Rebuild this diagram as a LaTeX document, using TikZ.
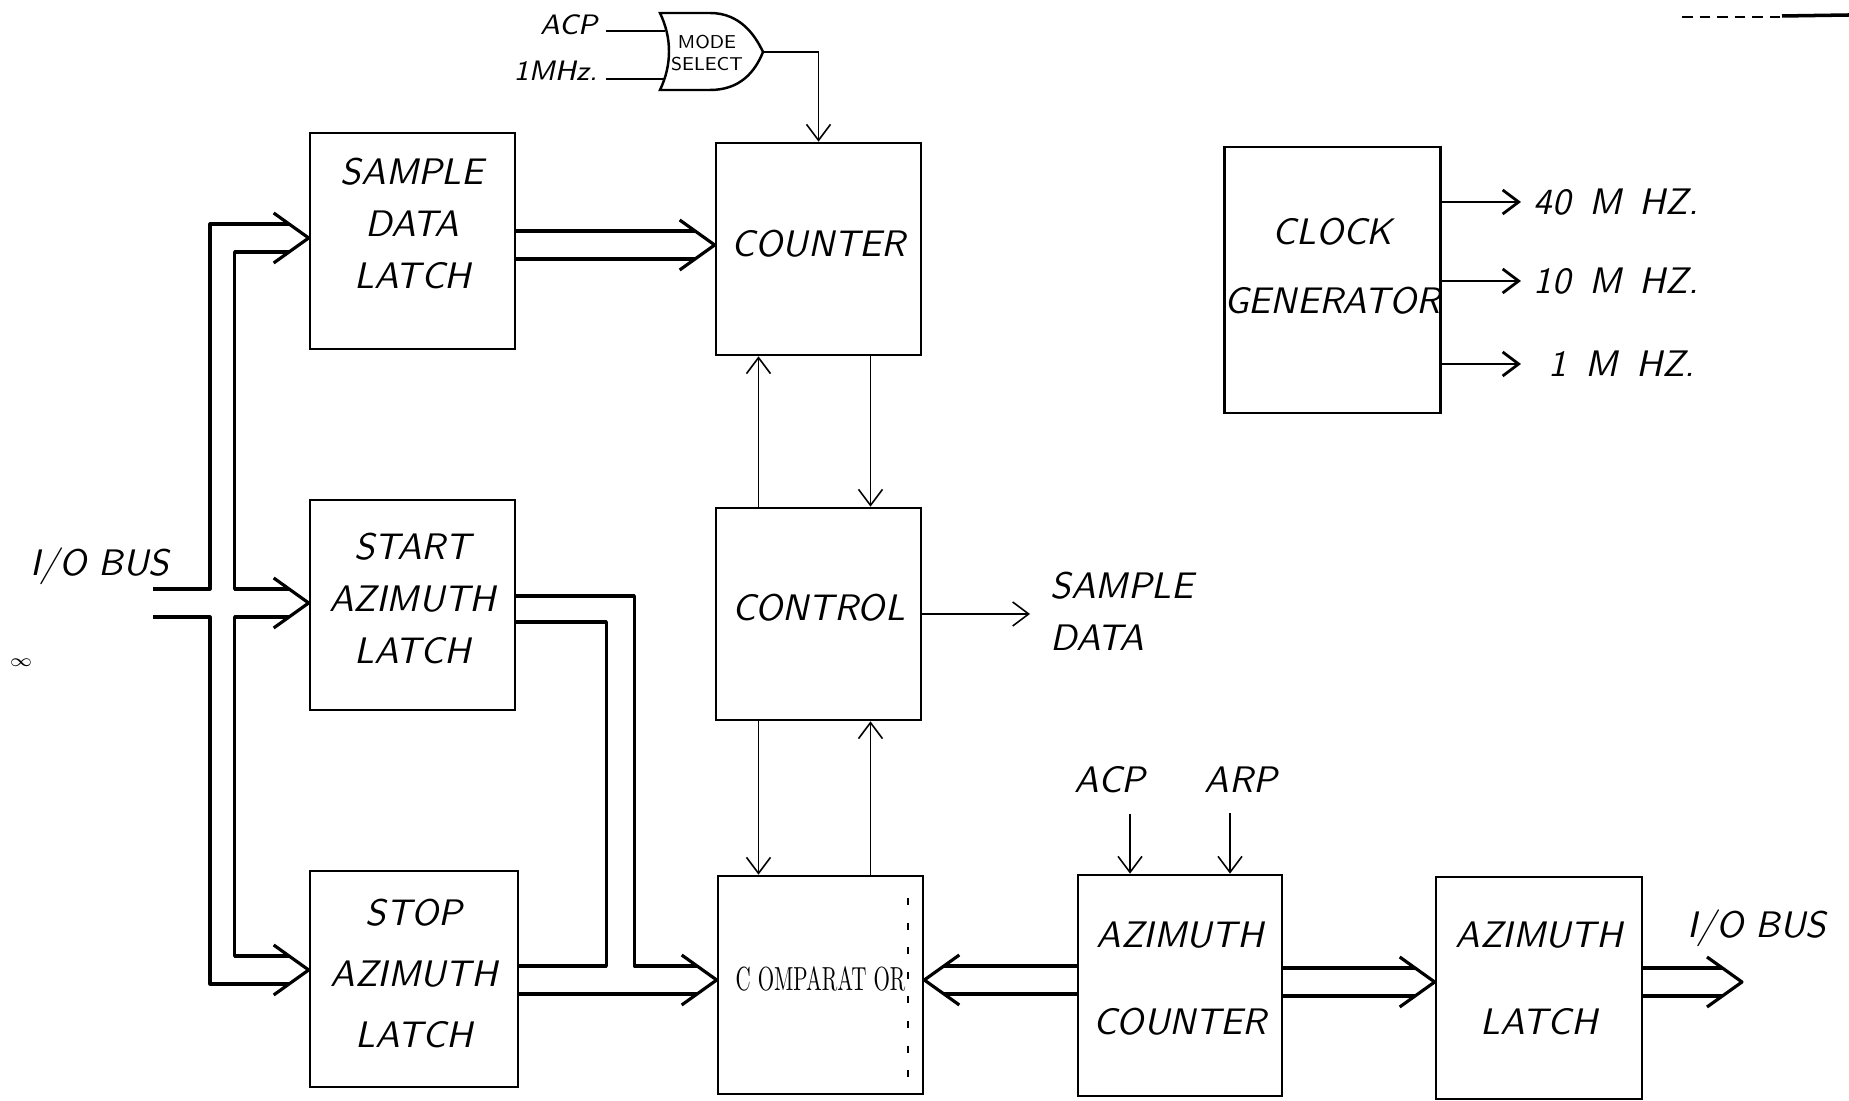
\documentclass[tikz,border=0pt]{standalone}
\usetikzlibrary{arrows.meta}
\newcommand{\handfont}{\fontsize{10.5}{14.8}\selectfont\sffamily\slshape}
\newcommand{\smallhand}{\fontsize{8}{10}\selectfont\sffamily\slshape}
\newcommand{\lift}[1]{\\[#1]\mbox{}}
\tikzset{
	blk/.style={draw, line width=0.75pt, minimum width=2.05cm, minimum height=2.12cm, inner sep=0pt, align=center, font=\handfont},
	lbl/.style={font=\handfont, inner sep=0.8mm},
	bus/.style={line width=0.9pt, line join=round},
	sig/.style={->, line width=0.45pt},
	ck/.style={->, line width=0.8pt},
}
\begin{document}
\begin{tikzpicture}[>={Straight Barb[length=1.6mm,width=2.4mm]}]
	\useasboundingbox (0,0) rectangle (18.49,-11.01);
	% blocks
	\node[blk, minimum height=2.16cm] (SDL) at (4.125,-2.41) {SAMPLE\\DATA\\LATCH\lift{-4.6pt}};
	\node[blk, minimum height=2.10cm] (SAL) at (4.125,-6.05) {START\\AZIMUTH\\LATCH\lift{-10.8pt}};
	\node[blk, minimum width=2.08cm, minimum height=2.16cm] (SPL) at (4.14,-9.79) {STOP\\[2.5pt]AZIMUTH\\[2.5pt]LATCH\lift{-11.4pt}};
	\node[blk] (CNT) at (8.185,-2.49) {COUNTER\lift{-11.4pt}};
	\node[blk] (CTL) at (8.185,-6.14) {CONTROL\lift{-10.8pt}};
	\node[blk, minimum height=2.18cm] (CMP) at (8.205,-9.85) {\scalebox{0.63}[1]{\fontsize{9.5}{11}\selectfont\rmfamily\upshape C OMPARAT OR}\lift{-11.4pt}};
	\node[blk, minimum width=2.04cm, minimum height=2.21cm] (AZC) at (11.80,-9.855) {AZIMUTH\\[10pt]COUNTER\lift{-10.8pt}};
	\node[blk, minimum width=2.06cm, minimum height=2.22cm] (AZL) at (15.39,-9.88) {AZIMUTH\\[10pt]LATCH\lift{-9.4pt}};
	\node[blk, minimum width=2.07cm, minimum height=2.66cm] (CLK) at (13.325,-2.80) {CLOCK\\[5pt]GENERATOR\lift{-6.8pt}};
	% mode select gate
	\draw[line width=0.7pt] (6.60,-0.13) -- (7.10,-0.13) .. controls (7.40,-0.13) and (7.55,-0.35) .. (7.63,-0.52)
		.. controls (7.55,-0.72) and (7.40,-0.90) .. (7.10,-0.90) -- (6.60,-0.90)
		.. controls (6.72,-0.65) and (6.72,-0.38) .. cycle;
	\node[font=\fontsize{5.3}{6.5}\selectfont\sffamily, align=center, inner sep=0pt] (MS) at (7.07,-0.53) {MODE\\SELECT};
	\coordinate (MSa) at (6.65,-0.31);
	\coordinate (MSb) at (6.65,-0.79);
	\coordinate (MSo) at (7.63,-0.52);
	\node[lbl, font=\smallhand, anchor=east] (ACP1) at (6.06,-0.25) {ACP};
	\node[lbl, font=\smallhand, anchor=east] (MHZ) at (6.06,-0.71) {1MHz.};
	\draw[line width=0.6pt] (ACP1.east |- MSa) -- (MSa);
	\draw[line width=0.6pt] (MHZ.east |- MSb) -- (MSb);
	\draw[sig] (MSo) -| (CNT.north);
	% counter, control, comparator
	\draw[sig] ([xshift=-6mm]CTL.north) -- ([xshift=-6mm]CNT.south);
	\draw[sig] ([xshift=5.2mm]CNT.south) -- ([xshift=5.2mm]CTL.north);
	\draw[sig] ([xshift=-6mm]CTL.south) -- ([xshift=-6mm]CTL.south |- CMP.north);
	\draw[sig] ([xshift=5.2mm]CTL.south |- CMP.north) -- ([xshift=5.2mm]CTL.south);
	\node[lbl, anchor=west, align=left, inner sep=2mm] (SD) at (10.30,-6.11) {SAMPLE\\DATA};
	\draw[sig] (CTL.east) -- (CTL.east -| SD.west);
	% clock outputs
	\node[lbl, anchor=west, inner sep=1.2mm] (F40) at (15.21,-2.02) {40 \,M \,HZ.};
	\node[lbl, anchor=west, inner sep=1.2mm] (F10) at (15.21,-2.81) {10 \,M \,HZ.};
	\node[lbl, anchor=west, inner sep=1.2mm] (F1) at (15.21,-3.64) {\hspace{1.5mm}1 \,M \,HZ.};
	\draw[ck] (F40.west -| CLK.east) -- (F40.west);
	\draw[ck] (F10.west -| CLK.east) -- (F10.west);
	\draw[ck] (F1.west -| CLK.east) -- (F1.west);
	% azimuth counter inputs
	\node[lbl] (ACP2) at (11.10,-7.80) {ACP};
	\node[lbl] (ARP) at (12.41,-7.80) {ARP};
	\draw[sig] ([xshift=2mm,yshift=-1.2mm]ACP2.south) -- ([xshift=2mm]ACP2.south |- AZC.north);
	\draw[sig] ([xshift=-1.1mm,yshift=-1.2mm]ARP.south) -- ([xshift=-1.1mm]ARP.south |- AZC.north);
	% bus tips
	\coordinate (tSDL) at ([yshift=0.3mm]SDL.west);
	\coordinate (tSAL) at ([yshift=0.2mm]SAL.west);
	\coordinate (tSPL) at ([yshift=0.9mm]SPL.west);
	\coordinate (tCNT) at ([yshift=0.4mm]CNT.west);
	\coordinate (oSAL) at ([yshift=-0.4mm]SAL.east);
	\coordinate (tCMP) at ([yshift=0.5mm]CMP.west);
	\coordinate (tCMPe) at ([yshift=0.5mm]CMP.east);
	\coordinate (tAZL) at ([yshift=0.6mm]AZL.west);
	\coordinate (IOin) at (1.53,-6.03);
	\coordinate (IOout) at (17.42,-9.82);
	% I/O bus in
	\node[lbl] (IOL) at (1.00,-5.66) {I/O BUS};
	\draw[bus] ([yshift=1.4mm]IOin) -- ++(0.57,0) |- ([xshift=-2mm,yshift=1.4mm]tSDL);
	\draw[bus] ([yshift=-1.4mm]IOin) -- ++(0.57,0) |- ([xshift=-2mm,yshift=-1.4mm]tSPL);
	\draw[bus] ([xshift=-2mm,yshift=-1.4mm]tSDL) -- ++(-0.54,0) |- ([xshift=-2mm,yshift=1.4mm]tSAL);
	\draw[bus] ([xshift=-2mm,yshift=-1.4mm]tSAL) -- ++(-0.54,0) |- ([xshift=-2mm,yshift=1.4mm]tSPL);
	\draw[bus] ([shift={(-3.5mm,2.5mm)}]tSDL) -- (tSDL) -- ([shift={(-3.5mm,-2.5mm)}]tSDL);
	\draw[bus] ([shift={(-3.5mm,2.5mm)}]tSAL) -- (tSAL) -- ([shift={(-3.5mm,-2.5mm)}]tSAL);
	\draw[bus] ([shift={(-3.5mm,2.5mm)}]tSPL) -- (tSPL) -- ([shift={(-3.5mm,-2.5mm)}]tSPL);
	% sample data latch to counter
	\draw[bus] ([yshift=1.4mm]tCNT -| SDL.east) -- ([xshift=-2mm,yshift=1.4mm]tCNT);
	\draw[bus] ([yshift=-1.4mm]tCNT -| SDL.east) -- ([xshift=-2mm,yshift=-1.4mm]tCNT);
	\draw[bus] ([shift={(-3.5mm,2.5mm)}]tCNT) -- (tCNT) -- ([shift={(-3.5mm,-2.5mm)}]tCNT);
	% start and stop latches to comparator
	\draw[bus] ([yshift=1.3mm]oSAL) -- ++(1.18,0) |- ([xshift=-2mm,yshift=1.4mm]tCMP);
	\draw[bus] ([yshift=-1.3mm]oSAL) -- ++(0.90,0) |- ([yshift=1.4mm]tCMP -| SPL.east);
	\draw[bus] ([yshift=-1.4mm]tCMP -| SPL.east) -- ([xshift=-2mm,yshift=-1.4mm]tCMP);
	\draw[bus] ([shift={(-3.5mm,2.5mm)}]tCMP) -- (tCMP) -- ([shift={(-3.5mm,-2.5mm)}]tCMP);
	% azimuth counter to comparator
	\draw[bus] ([yshift=1.4mm]tCMPe -| AZC.west) -- ([xshift=2mm,yshift=1.4mm]tCMPe);
	\draw[bus] ([yshift=-1.4mm]tCMPe -| AZC.west) -- ([xshift=2mm,yshift=-1.4mm]tCMPe);
	\draw[bus] ([shift={(3.5mm,2.5mm)}]tCMPe) -- (tCMPe) -- ([shift={(3.5mm,-2.5mm)}]tCMPe);
	% azimuth counter to azimuth latch
	\draw[bus] ([yshift=1.4mm]tAZL -| AZC.east) -- ([xshift=-2mm,yshift=1.4mm]tAZL);
	\draw[bus] ([yshift=-1.4mm]tAZL -| AZC.east) -- ([xshift=-2mm,yshift=-1.4mm]tAZL);
	\draw[bus] ([shift={(-3.5mm,2.5mm)}]tAZL) -- (tAZL) -- ([shift={(-3.5mm,-2.5mm)}]tAZL);
	% I/O bus out
	\node[lbl] (IOR) at (17.57,-9.28) {I/O BUS};
	\draw[bus] ([yshift=1.4mm]IOout -| AZL.east) -- ([xshift=-2mm,yshift=1.4mm]IOout);
	\draw[bus] ([yshift=-1.4mm]IOout -| AZL.east) -- ([xshift=-2mm,yshift=-1.4mm]IOout);
	\draw[bus] ([shift={(-3.5mm,2.5mm)}]IOout) -- (IOout) -- ([shift={(-3.5mm,-2.5mm)}]IOout);
	% scan marks
	\node[font=\tiny, inner sep=0pt] (PG) at (0.21,-6.63) {$\infty$};
	\draw[line width=0.3pt, dash pattern=on 2pt off 5pt] (9.08,-8.98) -- (9.08,-10.80);
	\draw[line width=0.8pt, dash pattern=on 3pt off 2pt] (16.82,-0.17) -- (17.80,-0.17);
	\draw[line width=1pt] (17.82,-0.16) -- (18.49,-0.15);
\end{tikzpicture}
\end{document}
